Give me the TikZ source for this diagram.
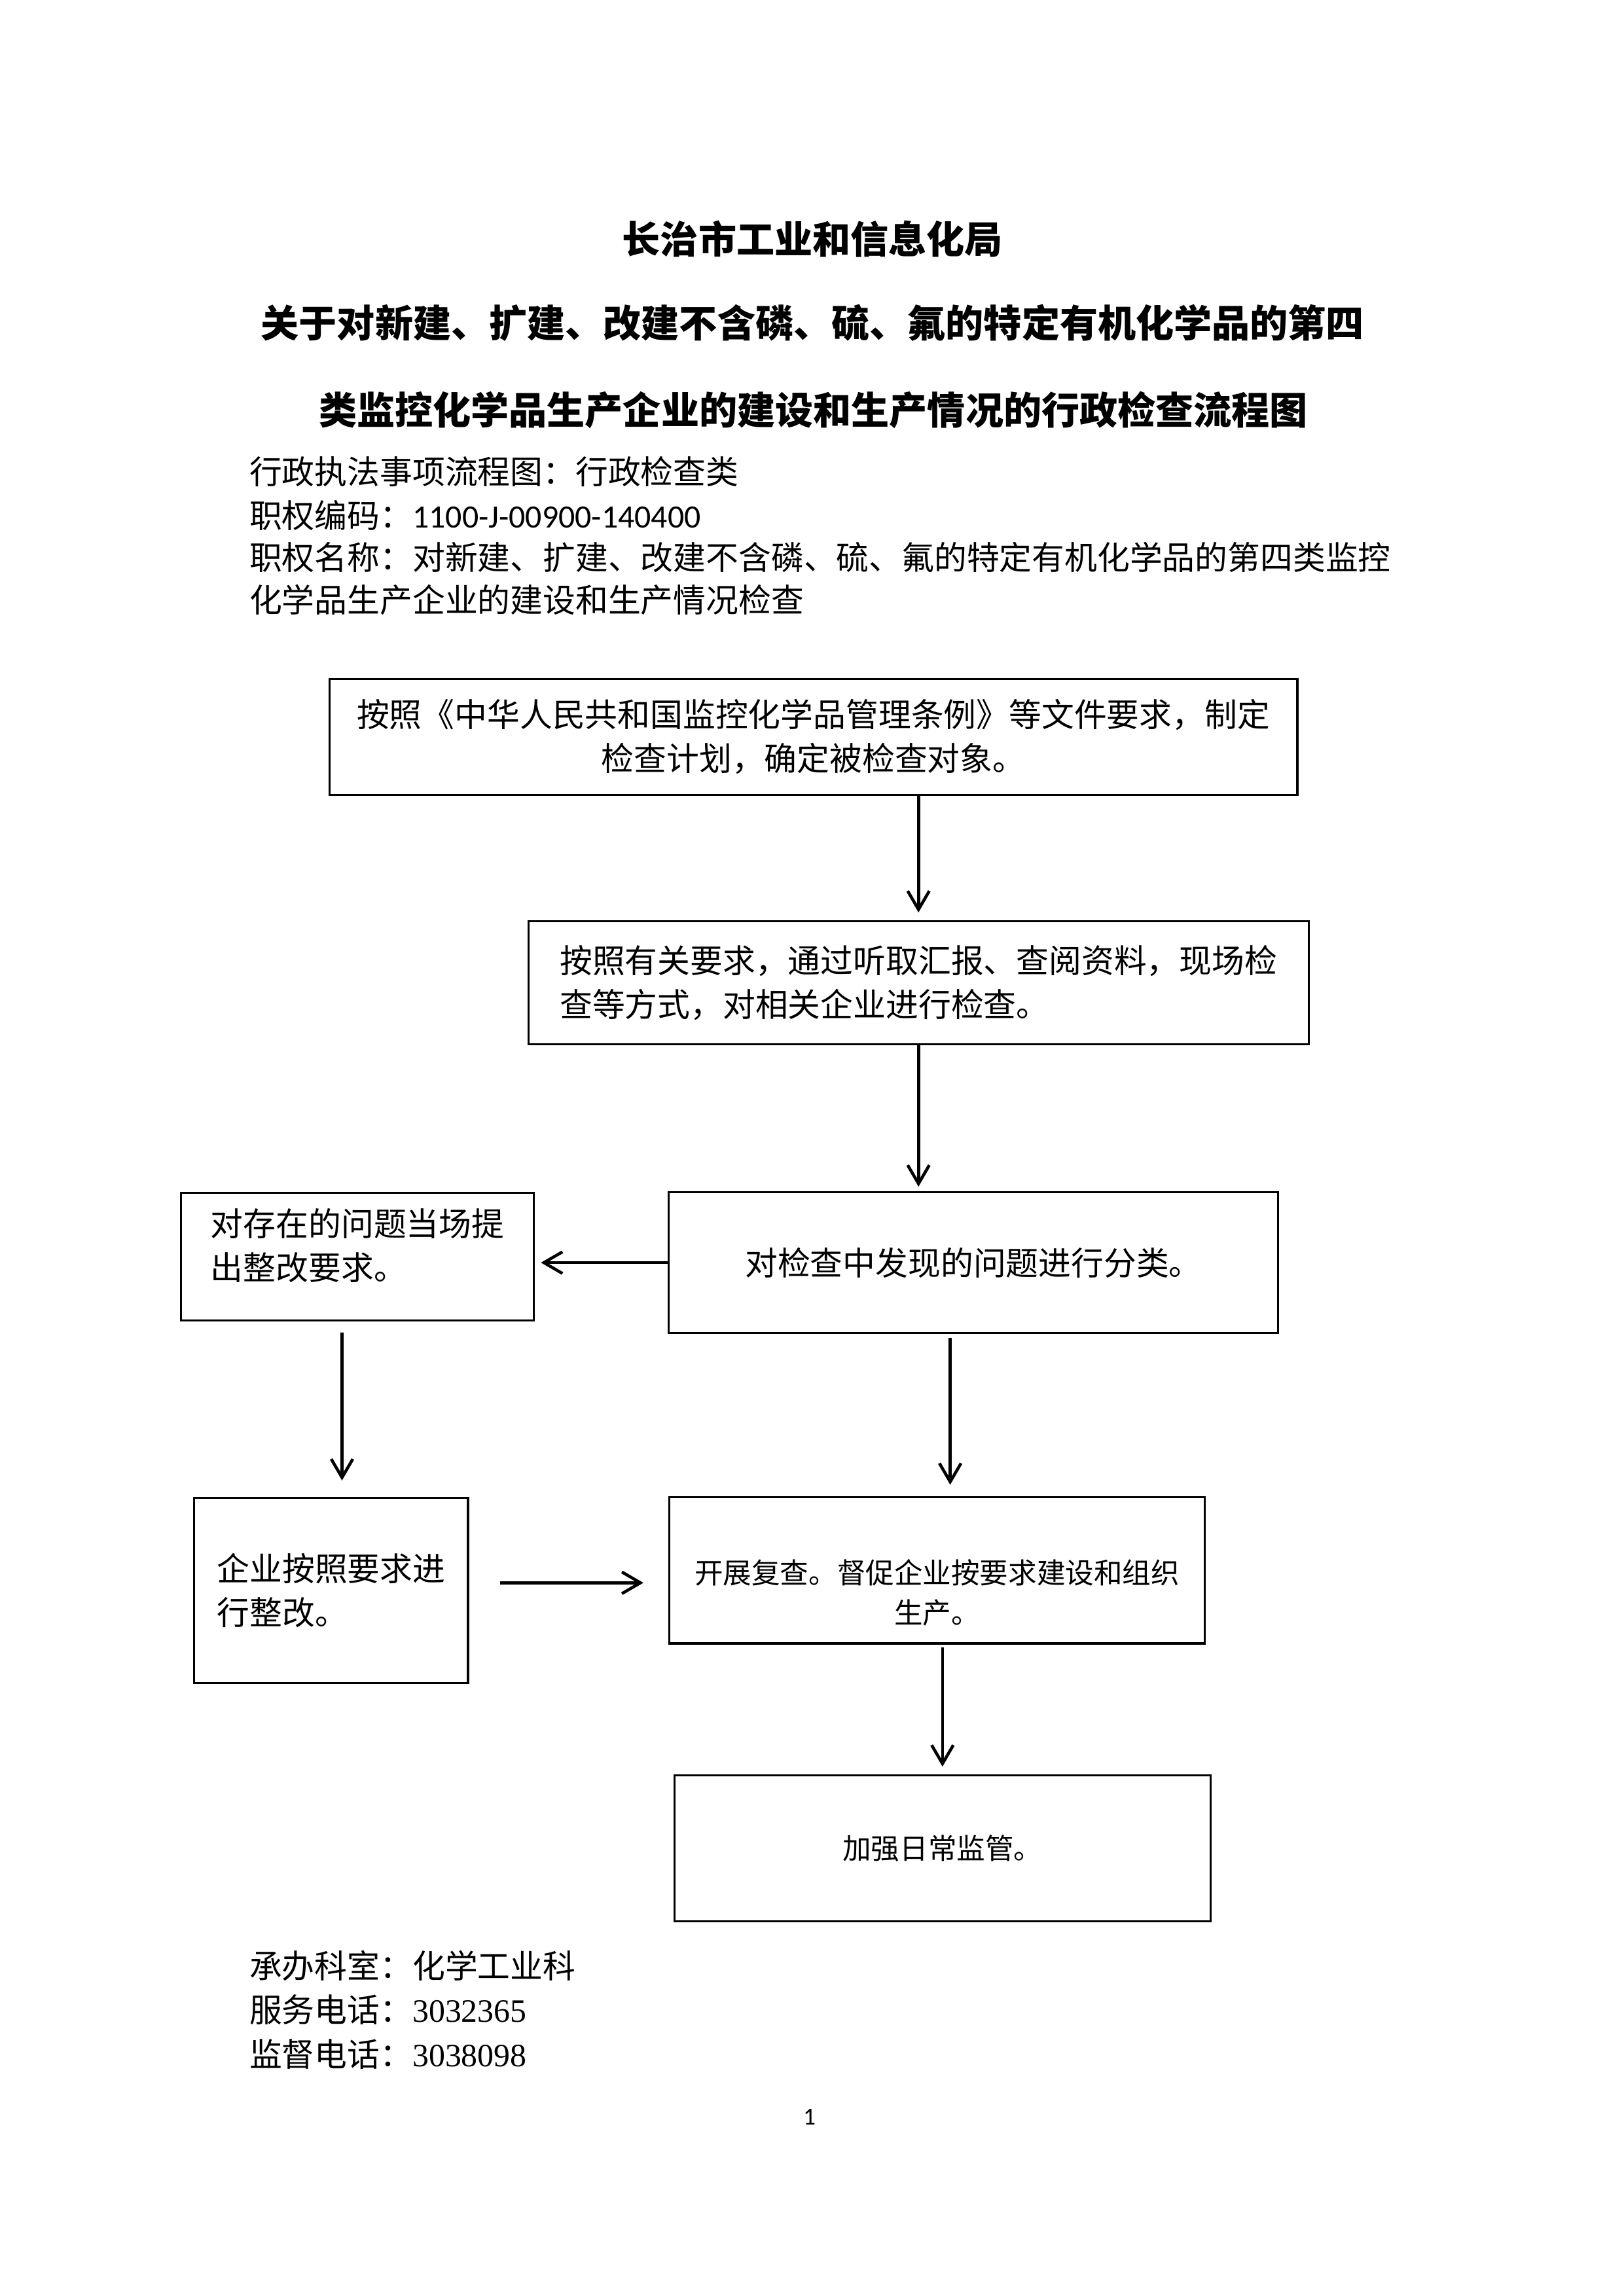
\documentclass[tikz,border=0pt]{standalone}
\usepackage{fontspec}
\setmainfont{Noto Sans CJK SC}
\newfontfamily\codefont{Carlito}
\newfontfamily\telfont{Liberation Serif}
\usetikzlibrary{positioning, arrows.meta}

\begin{document}
\begin{tikzpicture}[
    proc/.style={rectangle, draw=black, line width=0.75pt, inner sep=0pt, font=\fontsize{12}{16.1}\selectfont},
    smallproc/.style={proc, font=\fontsize{10.5}{14.8}\selectfont},
    arr/.style={-{Straight Barb[length=2.4mm, width=2.8mm]}, line width=1.1pt},
    title/.style={font=\fontsize{14}{16}\selectfont\bfseries, inner sep=0pt},
    meta/.style={anchor=west, font=\fontsize{12}{14}\selectfont, inner sep=0pt}
]
    \useasboundingbox (0,0) rectangle (21,-29.7);

    % Titles
    \node[title] (head) at (10.51,-3.09) {长治市工业和信息化局};
    \node[title] (headA) at (10.51,-4.18) {关于对新建、扩建、改建不含磷、硫、氟的特定有机化学品的第四};
    \node[title] (headB) at (10.52,-5.30) {类监控化学品生产企业的建设和生产情况的行政检查流程图};

    % Item info
    \node[meta] (kind) at (3.22,-6.10) {行政执法事项流程图：行政检查类};
    \node[meta] (code) at (3.22,-6.67) {职权编码：{\codefont 1100-J-00900-140400}};
    \node[meta] (nameA) at (3.22,-7.21) {职权名称：对新建、扩建、改建不含磷、硫、氟的特定有机化学品的第四类监控};
    \node[meta] (nameB) at (3.22,-7.76) {化学品生产企业的建设和生产情况检查};

    % Flow
    \node[proc, minimum width=12.52cm, minimum height=1.50cm, align=center] (plan) at (10.52,-9.53)
        {按照《中华人民共和国监控化学品管理条例》等文件要求，制定\\检查计划，确定被检查对象。};
    \node[proc, minimum width=10.09cm, minimum height=1.59cm, align=left, below=1.61cm of plan, xshift=1.36cm] (check)
        {按照有关要求，通过听取汇报、查阅资料，现场检\\查等方式，对相关企业进行检查。};
    \node[proc, minimum width=7.88cm, minimum height=1.82cm, below=1.89cm of check, xshift=0.71cm] (sort)
        {对检查中发现的问题进行分类。};
    \node[proc, minimum width=4.56cm, minimum height=1.65cm, align=left, text depth=9pt, left=1.72cm of sort, yshift=0.08cm] (demand)
        {对存在的问题当场提\\出整改要求。};
    \node[proc, minimum width=3.54cm, minimum height=2.40cm, align=left, below=2.27cm of demand, xshift=-0.34cm] (rectify)
        {企业按照要求进\\行整改。};
    \node[smallproc, minimum width=6.93cm, minimum height=1.89cm, align=center, text height=40pt, below=2.10cm of sort, xshift=-0.47cm] (recheck)
        {开展复查。督促企业按要求建设和组织\\生产。};
    \node[smallproc, minimum width=6.93cm, minimum height=1.89cm, below=1.68cm of recheck, xshift=0.07cm] (watch)
        {加强日常监管。};

    \draw[arr, shorten >=0.1cm] (plan.south -| check.north) -- (check.north);
    \draw[arr, shorten >=0.06cm] (check.south) -- (check.south |- sort.north);
    \draw[arr, shorten >=0.08cm] (sort.west) -- (sort.west -| demand.east);
    \draw[arr, shorten <=0.15cm, shorten >=0.21cm] ([xshift=-0.2cm]demand.south) -- ([xshift=-0.2cm]demand.south |- rectify.north);
    \draw[arr, shorten <=0.05cm, shorten >=0.15cm] ([xshift=-0.3cm]sort.south) -- ([xshift=-0.3cm]sort.south |- recheck.north);
    \draw[arr, shorten <=0.4cm, shorten >=0.32cm] ([yshift=0.1cm]rectify.east) -- ([yshift=0.1cm]rectify.east -| recheck.west);
    \draw[arr, shorten <=0.04cm, shorten >=0.1cm] (recheck.south -| watch.north) -- (watch.north);

    % Footer
    \node[meta] (office) at (3.22,-25.43) {承办科室：化学工业科};
    \node[meta] (serve) at (3.22,-26.00) {服务电话：{\telfont 3032365}};
    \node[meta] (super) at (3.22,-26.57) {监督电话：{\telfont 3038098}};
    \node[font=\codefont\fontsize{9}{11}\selectfont, inner sep=0pt] (page) at (10.47,-27.38) {1};
\end{tikzpicture}
\end{document}
